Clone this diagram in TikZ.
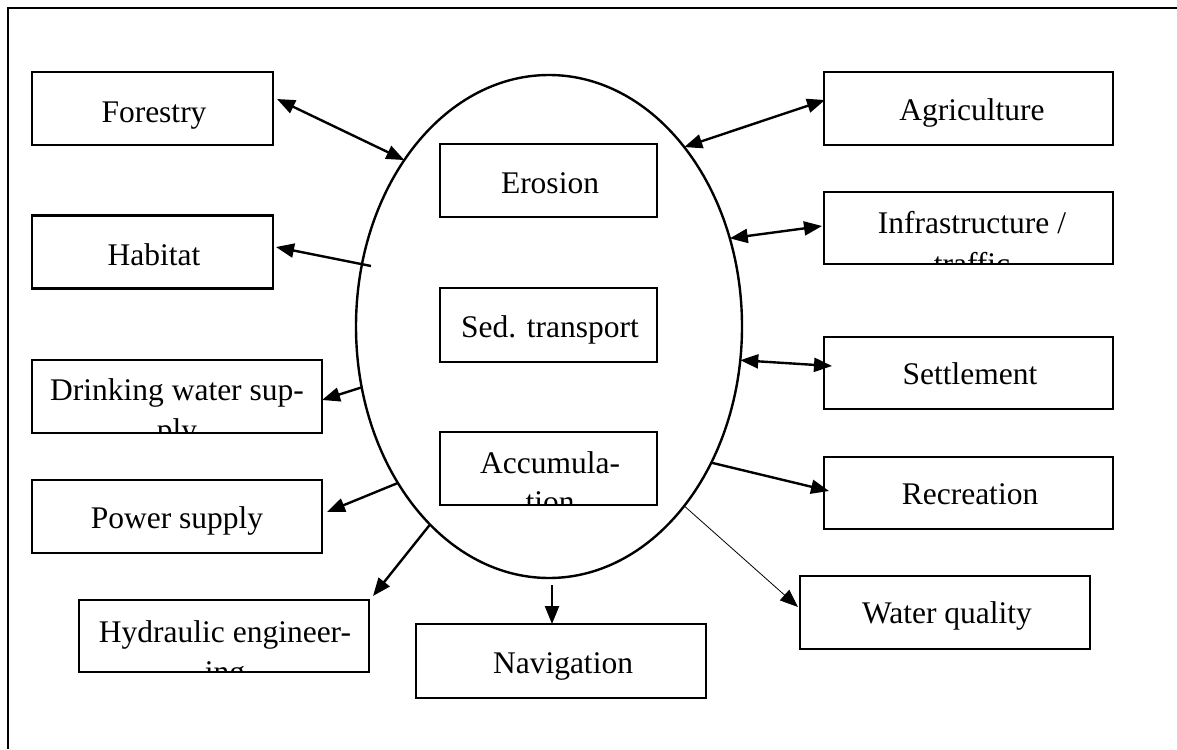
\documentclass[tikz,border=0pt]{standalone}
\usepackage{fontspec}
\setmainfont{Liberation Serif}
\usetikzlibrary{arrows.meta,shapes.geometric}
\begin{document}
\begin{tikzpicture}[x=1pt,y=-1pt,
  every node/.style={outer sep=0pt},
  box/.style={draw,line width=2.4pt,rectangle,inner sep=0pt,minimum height=73pt},
  lbl/.style={anchor=base,font=\fontsize{31.5}{36}\selectfont,inner sep=0pt},
  link/.style={line width=2.4pt,-{Triangle[length=18pt,width=14pt]}},
  both/.style={line width=2.4pt,{Triangle[length=18pt,width=14pt]}-{Triangle[length=18pt,width=14pt]}},
  thinlink/.style={line width=0.8pt,-{Triangle[length=18pt,width=14pt]}},
]
\useasboundingbox (0,0) rectangle (1177,749);
% outer frame (cropped)
\draw[line width=2.6pt] (1177,8) -- (8,8) -- (8,749);

% central ellipse
\node[draw,ellipse,line width=2.4pt,minimum width=386pt,minimum height=503pt,inner sep=0pt] (ell) at (549,326.5) {};

% boxes
\node[box,minimum width=241pt] (forestry) at (152.5,108.5) {};
\node[box,minimum width=241pt] (habitat) at (152.5,252) {};
\node[box,minimum width=290pt] (drink) at (177,396.5) {};
\node[box,minimum width=290pt] (power) at (177,516.5) {};
\node[box,minimum width=290pt,minimum height=72pt] (hyd) at (224,636) {};
\node[box,minimum width=290pt,minimum height=74pt] (nav) at (561,661) {};
\node[box,minimum width=290pt] (waterq) at (945,612.5) {};
\node[box,minimum width=289pt,minimum height=72pt] (recr) at (968.5,493) {};
\node[box,minimum width=289pt,minimum height=72pt] (settle) at (968.5,373) {};
\node[box,minimum width=289pt,minimum height=72pt] (infra) at (968.5,228) {};
\node[box,minimum width=289pt] (agri) at (968.5,108.5) {};
\node[box,minimum width=217pt] (erosion) at (548.5,180.5) {};
\node[box,minimum width=217pt,minimum height=74pt] (sedtr) at (548.5,325) {};
\node[box,minimum width=217pt] (accum) at (548.5,468.5) {};

% single-line labels
\node[lbl] (forestryT) at (154,122) {Forestry};
\node[lbl] (habitatT) at (154,265) {Habitat};
\node[lbl] (powerT) at (177,528) {Power supply};
\node[lbl] (navT) at (563,673) {Navigation};
\node[lbl] (waterqT) at (947,623) {Water quality};
\node[lbl] (recrT) at (970,504) {Recreation};
\node[lbl] (settleT) at (970,384) {Settlement};
\node[lbl] (agriT) at (972,121) {Agriculture};
\node[lbl] (erosionT) at (550,193) {Erosion};
\node[lbl] (sedtrT) at (550,337) {Sed. transport};

% clipped two-line labels
\begin{scope}
\clip (infra.south west) rectangle (infra.north east);
\node[lbl] (infraA) at (972,233) {Infrastructure /};
\node[lbl] (infraB) at (972,274) {traffic};
\end{scope}
\begin{scope}
\clip (accum.south west) rectangle (accum.north east);
\node[lbl] (accumA) at (550,473) {Accumula-};
\node[lbl] (accumB) at (550,512) {tion};
\end{scope}
\begin{scope}
\clip (drink.south west) rectangle (drink.north east);
\node[lbl] (drinkA) at (177,400) {Drinking water sup-};
\node[lbl] (drinkB) at (177,440) {ply};
\end{scope}
\begin{scope}
\clip (hyd.south west) rectangle (hyd.north east);
\node[lbl] (hydA) at (225,642) {Hydraulic engineer-};
\node[lbl] (hydB) at (225,682) {ing};
\end{scope}

% connectors
\draw[both] ([xshift=4pt,yshift=9.5pt]forestry.east) -- (ell.131);
\draw[both] (ell.53) -- ([xshift=1pt,yshift=8.5pt]agri.west);
\draw[both] (ell.26) -- ([xshift=-2pt,yshift=2pt]infra.west);
\draw[both] (ell.-10) -- ([xshift=8pt,yshift=7pt]settle.west);
\draw[link] (ell.-40) -- ([xshift=5pt,yshift=2pt]recr.west);
\draw[thinlink] (ell.-53) -- ([xshift=-2pt,yshift=5.5pt]waterq.west);
\draw[link] ([xshift=3pt,yshift=-7pt]ell.south) -- ([xshift=-9pt]nav.north);
\draw[link] (ell.-121) -- ([xshift=4pt,yshift=4pt]hyd.north east);
\draw[link] (ell.-134) -- ([xshift=5pt,yshift=4.5pt]power.east);
\draw[link] (ell.-162) -- ([yshift=-3.5pt]drink.east);
\draw[link] ([xshift=15pt,yshift=60.5pt]ell.west) -- ([xshift=3pt,yshift=5pt]habitat.east);
\end{tikzpicture}
\end{document}
